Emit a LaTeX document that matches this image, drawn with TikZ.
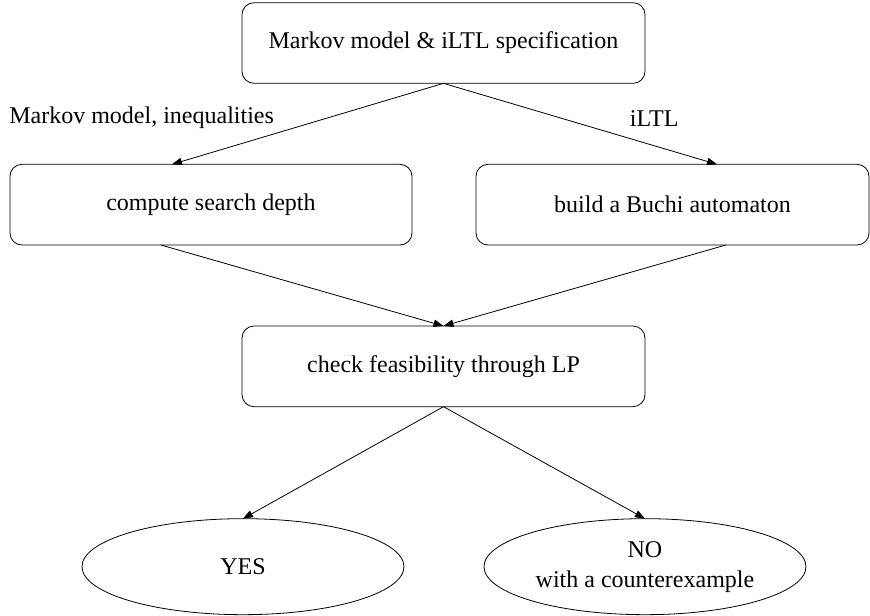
\documentclass[tikz,border=0pt]{standalone}
\usepackage{fontspec}
\setmainfont{Liberation Serif}
\usetikzlibrary{arrows.meta,positioning,shapes.geometric}

\begin{document}
\begin{tikzpicture}[x=0.75pt,y=-0.75pt,>={Triangle[length=7.5pt,width=5.5pt]},
    font=\fontsize{18}{22.5}\selectfont,line width=0.6pt,
    box/.style={draw,rounded corners=9pt,minimum height=60.5pt,inner sep=0pt,outer sep=0pt,align=center},
    oval/.style={draw,ellipse,minimum width=241.5pt,minimum height=72pt,inner sep=0pt,outer sep=0pt,align=center}]
  \useasboundingbox (0,0) rectangle (870,615);
  \node[box,minimum width=302.25pt] (spec) at (443.5,43) {Markov model \& iLTL specification};
  \node[box,minimum width=301.5pt,below=60.75pt of spec,xshift=-174.4pt] (depth) {compute search depth};
  \node[box,minimum width=294.75pt,below=60.75pt of spec,xshift=171.75pt] (buchi) {build a Buchi automaton};
  \node[box,minimum width=302.25pt,below=60.75pt of depth,xshift=174.4pt] (lp) {check feasibility through LP};
  \node[oval,below=84pt of lp,xshift=-150.4pt] (yes) {YES};
  \node[oval,below=84pt of lp,xshift=151.1pt] (no) {NO\\with a counterexample};
  \draw[->] (spec.south) -- node[pos=0.43,left=36pt]{Markov model, inequalities} ([xshift=-29.25pt]depth.north);
  \draw[->] (spec.south) -- node[pos=0.43,right=48pt]{iLTL} ([xshift=33.4pt]buchi.north);
  \draw[->] ([xshift=-37.5pt]depth.south) -- (lp.north);
  \draw[->] ([xshift=40pt]buchi.south) -- (lp.north);
  \draw[->] (lp.south) -- (yes.north);
  \draw[->] (lp.south) -- (no.north);
\end{tikzpicture}
\end{document}
